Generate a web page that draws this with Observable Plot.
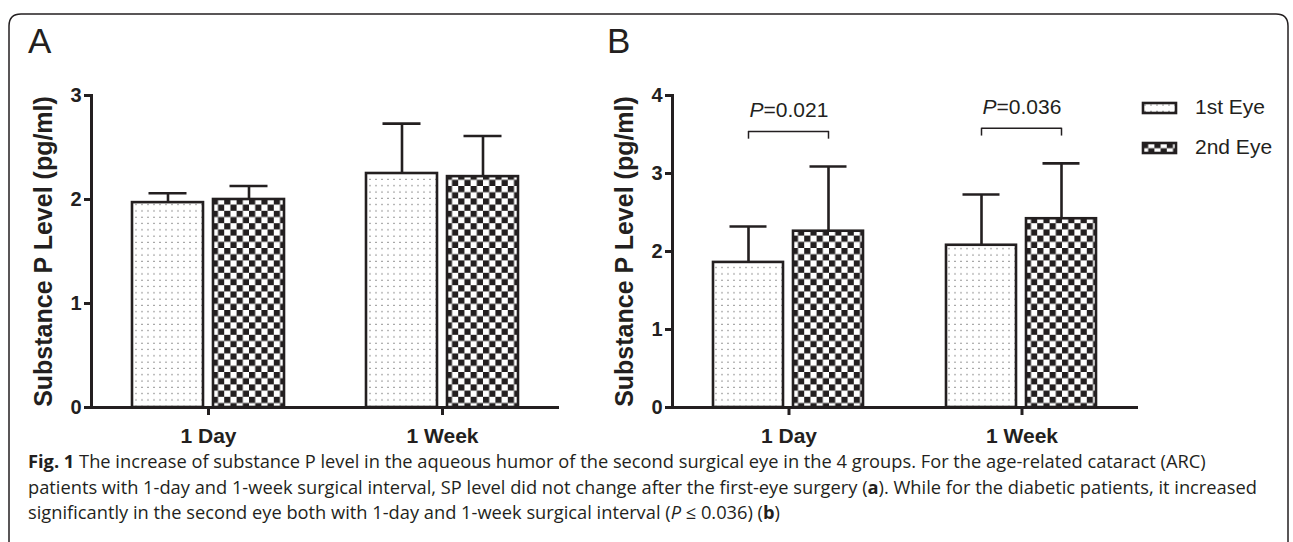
<!DOCTYPE html>
<html>
<head>
<meta charset="utf-8">
<script src="https://cdn.jsdelivr.net/npm/d3@7"></script>
<script src="https://cdn.jsdelivr.net/npm/@observablehq/plot@0.6"></script>
<style>
  html, body { margin: 0; padding: 0; background: #fff; }
  #wrap { position: relative; width: 1293px; height: 542px; overflow: hidden; background: #fff; }
  #panelA, #panelB { position: absolute; top: 0; }
  #overlay { position: absolute; left: 0; top: 0; pointer-events: none; }
</style>
</head>
<body>
<div id="wrap">
  <svg width="0" height="0" style="position:absolute">
    <defs>
      <pattern id="dotPat" width="6" height="6.3" patternUnits="userSpaceOnUse">
        <rect width="6" height="6.3" fill="#fff"/>
        <rect x="2.5" y="2.5" width="1" height="1" fill="#333"/>
      </pattern>
      <pattern id="checkPat" width="12.4" height="12.4" patternUnits="userSpaceOnUse">
        <rect width="12.4" height="12.4" fill="#fff"/>
        <rect width="6.2" height="6.2" fill="#231f20"/>
        <rect x="6.2" y="6.2" width="6.2" height="6.2" fill="#231f20"/>
      </pattern>
    </defs>
  </svg>
  <div id="panelA"></div>
  <div id="panelB"></div>
  <svg id="overlay" width="1293" height="542"></svg>
</div>
<script>
// ---------------- data ----------------
const categories = ["1 Day", "1 Week"];
const series = ["1st Eye", "2nd Eye"];
const yLabel = "Substance P Level (pg/ml)";

// Panel A (ARC patients): means and SD (error bar length)
const meanA1st = [1.97, 2.25];
const sdA1st   = [0.09, 0.48];
const meanA2nd = [2.00, 2.22];
const sdA2nd   = [0.13, 0.39];
const yTicksA  = [0, 1, 2, 3];

// Panel B (diabetic patients)
const meanB1st = [1.86, 2.08];
const sdB1st   = [0.46, 0.65];
const meanB2nd = [2.26, 2.42];
const sdB2nd   = [0.83, 0.71];
const yTicksB  = [0, 1, 2, 3, 4];

// significance annotations in panel B
const pLabels  = ["P=0.021", "P=0.036"];
const bracketY = [3.54, 3.58];
const bracketLeg = 0.1;

const panelLetters = ["A", "B"];
const captionLines = [
  [["b", "Fig. 1"], ["", " The increase of substance P level in the aqueous humor of the second surgical eye in the 4 groups. For the age-related cataract (ARC)"]],
  [["", "patients with 1-day and 1-week surgical interval, SP level did not change after the first-eye surgery ("], ["b", "a"], ["", "). While for the diabetic patients, it increased"]],
  [["", "significantly in the second eye both with 1-day and 1-week surgical interval ("], ["i", "P"], ["", " \u2264 0.036) ("], ["b", "b"], ["", ")"]]
];

// ---------------- helpers ----------------
const INK = "#231f20";
const FONT = '"Liberation Sans", Arial, Helvetica, sans-serif';
const fills = ["url(#dotPat)", "url(#checkPat)"];

function rowsFor(m1, s1, m2, s2) {
  const out = [];
  categories.forEach((cat, i) => {
    out.push({cat, series: series[0], mean: m1[i], top: m1[i] + s1[i]});
    out.push({cat, series: series[1], mean: m2[i], top: m2[i] + s2[i]});
  });
  return out;
}

function panel({rows, yMax, yTicks, width, marginLeft, marginRight, brackets}) {
  const marks = [
    Plot.ruleX(rows, {fx: "cat", x: "series", y1: "mean", y2: "top", stroke: INK, strokeWidth: 2.6}),
    Plot.tickY(rows, {fx: "cat", x: "series", y: "top", stroke: INK, strokeWidth: 2.6, insetLeft: 16.5, insetRight: 16.5}),
    Plot.barY(rows, {fx: "cat", x: "series", y: "mean", fill: "series", stroke: INK, strokeWidth: 2.6}),
    Plot.ruleY([0], {stroke: INK, strokeWidth: 3}),
    Plot.axisY({ticks: yTicks, tickFormat: "d", tickSize: 7, tickPadding: 3, fontSize: 20, fontWeight: "bold",
                strokeWidth: 3, stroke: INK, label: yLabel, labelAnchor: "center", labelOffset: 57, labelArrow: "none"}),
    Plot.axisFx({anchor: "bottom", tickSize: 8, tickPadding: 13, fontSize: 21, fontWeight: "bold", strokeWidth: 3, stroke: INK, label: null}),
    Plot.frame({anchor: "left", facet: "super", stroke: INK, strokeWidth: 3})
  ];
  if (brackets) {
    const legs = [];
    brackets.forEach(b => series.forEach(s => legs.push({cat: b.cat, series: s, y: b.y})));
    marks.push(
      Plot.link(brackets, {fx: "cat", x1: "s1", x2: "s2", y1: "y", y2: "y", stroke: INK, strokeWidth: 1.5}),
      Plot.ruleX(legs, {fx: "cat", x: "series", y1: d => d.y - bracketLeg, y2: "y", stroke: INK, strokeWidth: 1.5}),
      Plot.text(brackets, {fx: "cat", y: "y", text: "label", dy: -14, lineAnchor: "bottom", fontSize: 21, fill: INK})
    );
  }
  const svg = Plot.plot({
    width, height: 460, marginLeft, marginRight, marginTop: 95, marginBottom: 53,
    style: {fontFamily: FONT, color: INK, background: "transparent", overflow: "visible"},
    fx: {domain: categories, padding: 0},
    x: {domain: series, paddingInner: 0.12, paddingOuter: 0.5, axis: null},
    y: {domain: [0, yMax]},
    color: {domain: series, range: fills},
    marks
  });
  // bigger axis title
  svg.querySelectorAll('[aria-label="y-axis label"] text').forEach(t => t.setAttribute("font-size", 25));
  // italic P in the p-value labels
  svg.querySelectorAll("text").forEach(t => {
    const s = t.textContent;
    if (/^P=/.test(s) && t.children.length === 0) {
      t.textContent = "";
      const ns = "http://www.w3.org/2000/svg";
      const a = document.createElementNS(ns, "tspan"); a.setAttribute("font-style", "italic"); a.textContent = "P";
      const b = document.createElementNS(ns, "tspan"); b.textContent = s.slice(1);
      t.appendChild(a); t.appendChild(b);
    }
  });
  return svg;
}

// ---------------- panels ----------------
const rowsA = rowsFor(meanA1st, sdA1st, meanA2nd, sdA2nd);
const rowsB = rowsFor(meanB1st, sdB1st, meanB2nd, sdB2nd);
const brk = categories.map((cat, i) => ({cat, y: bracketY[i], label: pLabels[i], s1: series[0], s2: series[1]}));

const elA = document.getElementById("panelA");
elA.style.left = "0px"; elA.style.width = "600px";
elA.appendChild(panel({rows: rowsA, yMax: 3, yTicks: yTicksA, width: 600, marginLeft: 90, marginRight: 41}));

const elB = document.getElementById("panelB");
elB.style.left = "580px"; elB.style.width = "713px";
elB.appendChild(panel({rows: rowsB, yMax: 4, yTicks: yTicksB, width: 713, marginLeft: 91, marginRight: 155, brackets: brk}));

// ---------------- overlay: frame, letters, legend, caption ----------------
const ov = d3.select("#overlay");
ov.append("path")
  .attr("d", "M9,560 L9,26 Q9,14 21,14 L1276,14 Q1288,14 1288,26 L1288,560")
  .attr("fill", "none").attr("stroke", INK).attr("stroke-width", 1.5);

ov.selectAll("text.letter").data(panelLetters).join("text")
  .attr("class", "letter")
  .attr("x", (d, i) => [28, 607][i]).attr("y", 53)
  .attr("font-family", FONT).attr("font-size", 35).attr("fill", INK)
  .text(d => d);

const lg = ov.append("g").attr("transform", "translate(1142,102)");
series.forEach((s, i) => {
  const g = lg.append("g").attr("transform", `translate(0,${i * 40})`);
  g.append("rect").attr("x", 1).attr("y", 1).attr("width", 33).attr("height", 10)
    .attr("fill", fills[i]).attr("stroke", INK).attr("stroke-width", 2.6);
  g.append("text").attr("x", 53).attr("y", 11.5)
    .attr("font-family", FONT).attr("font-size", 21).attr("fill", INK).text(s);
});

const baseSize = 16.8;
const cap = ov.append("g").attr("font-family", "'Open Sans', Lato, sans-serif").attr("font-size", baseSize).attr("fill", INK);
const capTexts = [];
captionLines.forEach((parts, i) => {
  const t = cap.append("text").attr("x", 28).attr("y", 468 + i * 25.5).attr("xml:space", "preserve");
  parts.forEach(([style, str]) => {
    const sp = t.append("tspan").text(str);
    if (style === "b") sp.attr("font-weight", "bold");
    if (style === "i") sp.attr("font-style", "italic");
  });
  capTexts.push(t.node());
});
// fit caption size so the longest (second) line ends near x = 1256 as in the reference
try {
  const r = (1256 - 28) / capTexts[1].getComputedTextLength();
  if (isFinite(r) && r > 0.8 && r < 1.3) cap.attr("font-size", (baseSize * r).toFixed(2));
} catch (e) {}
</script>
</body>
</html>
